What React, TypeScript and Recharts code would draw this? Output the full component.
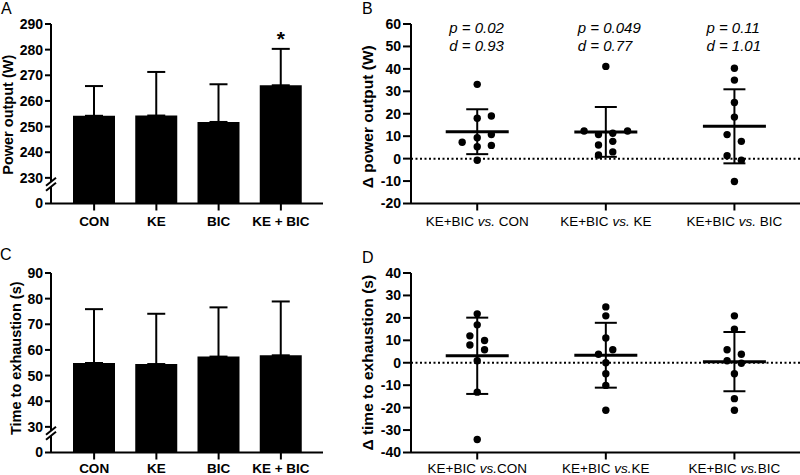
import React from 'react';
import {
  BarChart,
  Bar,
  ErrorBar,
  XAxis,
  YAxis,
  ScatterChart,
  Scatter,
  ReferenceLine,
  ReferenceDot,
} from 'recharts';

// ============================================================================
// Data
// ============================================================================

const conditions = ['CON', 'KE', 'BIC', 'KE + BIC'];

const powerMean = [254.2, 254.3, 251.8, 266.1];
const powerSd = [11.6, 17.0, 14.7, 14.2];
const powerSig = ['', '', '', '*'];
const powerTicks = [0, 230, 240, 250, 260, 270, 280, 290];

const tteMean = [54.9, 54.5, 57.4, 57.9];
const tteSd = [21.0, 19.6, 19.2, 21.0];
const tteTicks = [0, 30, 40, 50, 60, 70, 80, 90];

const comparedTo = ['CON', 'KE', 'BIC'];
const pValues = ['0.02', '0.049', '0.11'];
const dValues = ['0.93', '0.77', '1.01'];

const deltaPower = [
  [33.1, 18.0, 19.0, 7.3, 9.3, 10.7, 5.3, 5.9, -0.7],
  [41.1, 12.3, 12.3, 10.7, 11.3, 6.1, 7.7, 1.6, 3.0],
  [40.3, 35.0, 25.0, 18.5, 10.7, 7.7, 1.3, -0.7, -10.2],
];
const deltaPowerJitter = [
  [0, 0, 0.11, -0.117, 0, 0.11, 0, 0.11, 0],
  [0, -0.169, 0.169, -0.057, 0.054, -0.057, 0.054, -0.057, 0.054],
  [0, 0, 0, 0, -0.057, 0.054, -0.057, 0.054, 0],
];
const deltaPowerMean = [12.0, 11.9, 14.4];
const deltaPowerSd = [10.0, 11.1, 16.5];
const deltaPowerTicks = [-20, -10, 0, 10, 20, 30, 40, 50, 60];

const deltaTte = [
  [21.8, 16.9, 12.0, 9.9, 7.9, 5.8, 0.9, -13.1, -34.2],
  [24.9, 20.9, 11.0, 3.8, 5.8, 0.0, -4.9, -10.1, -21.2],
  [20.9, 15.0, 5.8, 3.8, 0.9, -0.2, -4.9, -16.0, -21.2],
];
const deltaTteJitter = [
  [0, 0, -0.057, 0.057, -0.057, 0.057, 0, 0, 0],
  [0, 0, 0, -0.057, 0.054, 0, 0, 0, 0],
  [0, 0, -0.057, 0.054, -0.057, 0.054, 0, 0, 0],
];
const deltaTteMean = [3.1, 3.35, 0.5];
const deltaTteSd = [17.0, 14.45, 13.2];
const deltaTteTicks = [-40, -30, -20, -10, 0, 10, 20, 30, 40];

// ============================================================================
// Helpers
// ============================================================================

const FONT = '"Liberation Sans", Arial, Helvetica, sans-serif';
const AXIS = { stroke: '#000', strokeWidth: 2 };
const BREAK_AT = 7.5;

// broken axis: 0..low squeezed into 10 units, above low is linear
const breakScale = (low: number) => (v: number) =>
  v >= low ? v - low + 10 : (v * 10) / low;

const toPower = breakScale(230);
const toTte = breakScale(30);

function AxisTitle({ viewBox, text, baseX, dy = 0, size = 14.5 }: any) {
  const cy = viewBox.y + viewBox.height / 2 + dy;
  const x = viewBox.x + baseX;
  return (
    <text
      transform={`translate(${x},${cy}) rotate(-90)`}
      textAnchor="middle"
      fontFamily={FONT}
      fontWeight="bold"
      fontSize={size}
      fill="#000"
    >
      {text}
    </text>
  );
}

function BrokenYTick({ x, y, payload, plotted, labels, size }: any) {
  const ax = x + 8;
  if (Math.abs(payload.value - BREAK_AT) < 1e-6) {
    return (
      <g>
        <rect x={ax - 8} y={y - 2.5} width={11} height={5} fill="#fff" />
        <line x1={ax - 5} y1={y + 1.5} x2={ax + 5} y2={y - 6.5} stroke="#000" strokeWidth={2} />
        <line x1={ax - 5} y1={y + 6.5} x2={ax + 5} y2={y - 1.5} stroke="#000" strokeWidth={2} />
      </g>
    );
  }
  const i = plotted.findIndex((p: number) => Math.abs(p - payload.value) < 1e-6);
  return (
    <text x={x} y={y} dy="0.355em" textAnchor="end" fontFamily={FONT} fontWeight="bold" fontSize={size} fill="#000">
      {i >= 0 ? labels[i] : payload.value}
    </text>
  );
}

function PlainYTick({ x, y, payload, size }: any) {
  return (
    <text x={x} y={y} dy="0.355em" textAnchor="end" fontFamily={FONT} fontWeight="bold" fontSize={size} fill="#000">
      {payload.value}
    </text>
  );
}

function ConditionTick({ x, y, payload }: any) {
  return (
    <text x={x} y={y} dy="0.71em" textAnchor="middle" fontFamily={FONT} fontWeight="bold" fontSize={13.5} fill="#000">
      {payload.value}
    </text>
  );
}

function CompareTick({ x, y, index, sep }: any) {
  return (
    <text x={x} y={y} dy="0.71em" textAnchor="middle" fontFamily={FONT} fontSize={13.5} fill="#000">
      <tspan>KE+BIC </tspan>
      <tspan fontStyle="italic">vs.</tspan>
      <tspan>{sep + comparedTo[index]}</tspan>
    </text>
  );
}

const Dot = ({ cx, cy }: any) => <circle cx={cx} cy={cy} r={3.7} fill="#000" />;

const MeanLine = ({ cx, cy }: any) => (
  <line x1={cx - 31.5} y1={cy} x2={cx + 31.5} y2={cy} stroke="#000" strokeWidth={3} />
);

// ============================================================================
// Panels
// ============================================================================

function BrokenBarPanel({
  means,
  sds,
  ticks,
  toPlot,
  title,
  titleX,
  titleDy,
  sig,
  labelGap = 6,
}: any) {
  const plotted = ticks.map(toPlot);
  const data = conditions.map((name, i) => ({
    name,
    value: toPlot(means[i]),
    err: [0, sds[i]],
  }));
  return (
    <BarChart width={360} height={235} data={data} margin={{ top: 24, right: 37, bottom: 2, left: 0 }}>
      <XAxis
        dataKey="name"
        height={29.5}
        padding={{ left: 12, right: 11 }}
        axisLine={AXIS}
        tickLine={AXIS}
        tickSize={7}
        tickMargin={labelGap}
        tick={<ConditionTick />}
        interval={0}
      />
      <YAxis
        type="number"
        domain={[0, 70]}
        ticks={[...plotted, BREAK_AT]}
        width={51}
        axisLine={AXIS}
        tickLine={AXIS}
        tickSize={6}
        tickMargin={2}
        interval={0}
        tick={<BrokenYTick plotted={plotted} labels={ticks} size={14} />}
        label={<AxisTitle text={title} baseX={titleX} dy={titleDy} size={14.5} />}
      />
      <Bar dataKey="value" fill="#000" barSize={42} isAnimationActive={false}>
        <ErrorBar dataKey="err" width={9} strokeWidth={2} stroke="#000" direction="y" />
      </Bar>
      {sig &&
        conditions.map((c, i) =>
          sig[i] ? (
            <ReferenceDot
              key={c}
              x={c}
              y={toPlot(means[i] + sds[i])}
              r={0}
              ifOverflow="visible"
              shape={(p: any) => (
                <text x={p.cx} y={p.cy - 3} textAnchor="middle" fontFamily={FONT} fontWeight="bold" fontSize={21} fill="#000">
                  {sig[i]}
                </text>
              )}
            />
          ) : null,
        )}
    </BarChart>
  );
}

function DeltaPanel({
  values,
  jitter,
  means,
  sds,
  domain,
  ticks,
  title,
  titleDy,
  sep,
  stats,
  labelGap = 6,
}: any) {
  const points = values.flatMap((group: number[], g: number) =>
    group.map((v, k) => ({ x: g + 0.5 + jitter[g][k], y: v })),
  );
  const summary = means.map((m: number, g: number) => ({ x: g + 0.5, y: m, sd: sds[g] }));
  return (
    <ScatterChart width={440} height={235} margin={{ top: 24, right: 0, bottom: 2, left: 0 }}>
      <XAxis
        type="number"
        dataKey="x"
        domain={[-0.015, 3.01]}
        ticks={[0.5, 1.5, 2.5]}
        allowDataOverflow
        height={29.5}
        axisLine={AXIS}
        tickLine={AXIS}
        tickSize={7}
        tickMargin={labelGap}
        interval={0}
        tick={<CompareTick sep={sep} />}
      />
      <YAxis
        type="number"
        dataKey="y"
        domain={domain}
        ticks={ticks}
        allowDataOverflow
        width={51}
        axisLine={AXIS}
        tickLine={AXIS}
        tickSize={8}
        tickMargin={2}
        interval={0}
        tick={<PlainYTick size={14} />}
        label={<AxisTitle text={title} baseX={13} dy={titleDy} size={15.5} />}
      />
      <ReferenceLine y={0} stroke="#000" strokeWidth={2} strokeDasharray="2 2.5" />
      <Scatter data={points} shape={Dot} isAnimationActive={false} />
      <Scatter data={summary} shape={MeanLine} isAnimationActive={false}>
        <ErrorBar dataKey="sd" width={11} strokeWidth={2} stroke="#000" direction="y" />
      </Scatter>
      {stats &&
        comparedTo.map((c, g) => (
          <ReferenceDot
            key={c}
            x={g + 0.5}
            y={domain[1]}
            r={0}
            ifOverflow="visible"
            shape={(p: any) => (
              <text fontFamily={FONT} fontStyle="italic" fontSize={15} fill="#000">
                <tspan x={p.cx - 28} y={p.cy + 8.5}>{`p = ${stats.p[g]}`}</tspan>
                <tspan x={p.cx - 28} y={p.cy + 26.8}>{`d = ${stats.d[g]}`}</tspan>
              </text>
            )}
          />
        ))}
    </ScatterChart>
  );
}

// ============================================================================
// Main
// ============================================================================

export default function App() {
  const letter = { fontFamily: FONT, fontSize: 16, fill: '#000' };
  return (
    <div style={{ position: 'relative', width: 800, height: 475, overflow: 'hidden', background: '#fff' }}>
      <style>{'body{margin:0}'}</style>
      <div style={{ position: 'absolute', left: 0, top: 0 }}>
        <BrokenBarPanel
          means={powerMean}
          sds={powerSd}
          ticks={powerTicks}
          toPlot={toPower}
          title="Power output (W)"
          titleX={12.7}
          titleDy={1}
          sig={powerSig}
        />
      </div>
      <div style={{ position: 'absolute', left: 360, top: 0 }}>
        <DeltaPanel
          values={deltaPower}
          jitter={deltaPowerJitter}
          means={deltaPowerMean}
          sds={deltaPowerSd}
          domain={[-20, 60]}
          ticks={deltaPowerTicks}
          title="Δ power output (W)"
          titleDy={3}
          sep=" "
          stats={{ p: pValues, d: dValues }}
        />
      </div>
      <div style={{ position: 'absolute', left: 0, top: 249 }}>
        <BrokenBarPanel
          means={tteMean}
          sds={tteSd}
          ticks={tteTicks}
          toPlot={toTte}
          title="Time to exhaustion (s)"
          titleX={21}
          titleDy={-4.5}
          labelGap={4}
        />
      </div>
      <div style={{ position: 'absolute', left: 360, top: 249 }}>
        <DeltaPanel
          values={deltaTte}
          jitter={deltaTteJitter}
          means={deltaTteMean}
          sds={deltaTteSd}
          domain={[-40, 40]}
          ticks={deltaTteTicks}
          title="Δ time to exhaustion (s)"
          titleDy={0}
          sep=""
          labelGap={4}
        />
      </div>
      <svg width={800} height={475} style={{ position: 'absolute', left: 0, top: 0, pointerEvents: 'none' }}>
        <text x={1} y={13.5} {...letter}>A</text>
        <text x={362} y={13.5} {...letter}>B</text>
        <text x={0} y={260} {...letter}>C</text>
        <text x={362} y={263} {...letter}>D</text>
      </svg>
    </div>
  );
}
